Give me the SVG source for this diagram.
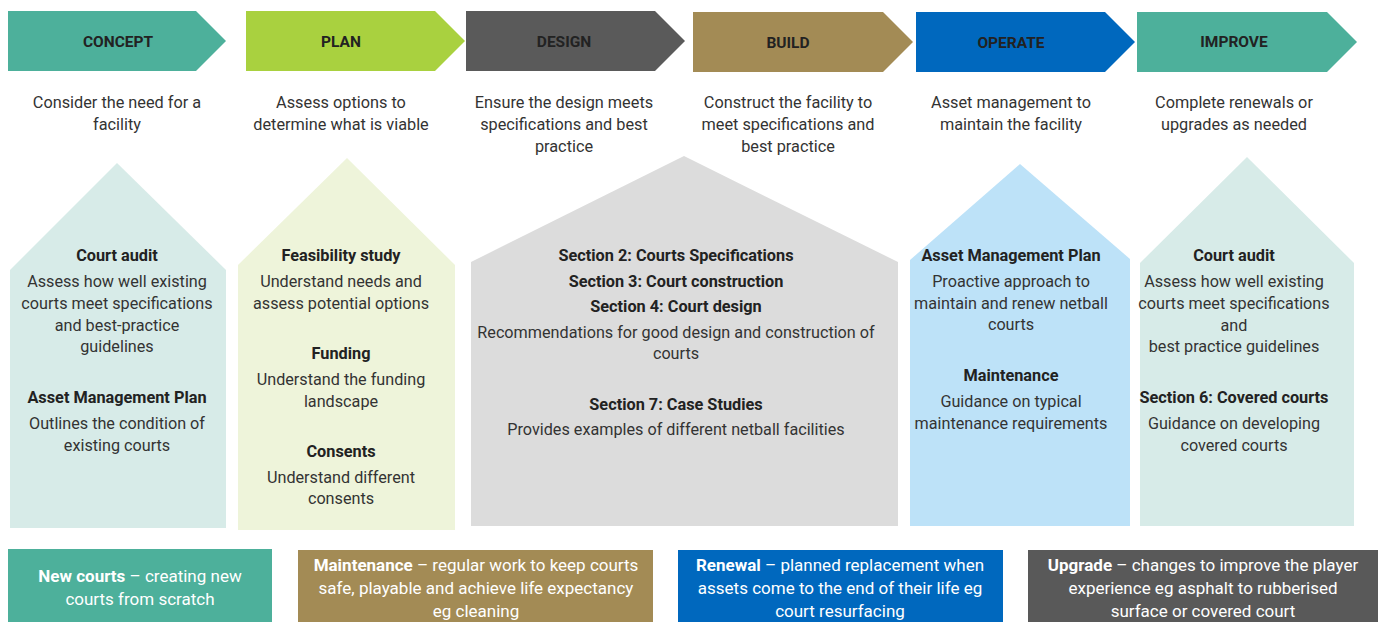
<svg xmlns="http://www.w3.org/2000/svg" width="1383" height="622" viewBox="0 0 1383 622">
<style>
text{font-family:Roboto,"Liberation Sans",sans-serif;text-anchor:middle;fill:#333}
.lab{font-size:15.5px;font-weight:700;fill:#222}
.desc{font-size:16.3px}
.h{font-size:16.2px}
.hb{font-size:16.3px;font-weight:700;fill:#222}
.bt{font-size:17px;fill:#fff}
.bt tspan.b{font-weight:700}
</style>
<rect width="1383" height="622" fill="#fff"/>
<g id="stage-concept">
<polygon points="8,11 196,11 226,41 196,71 8,71" fill="#4DB09B"/>
<text class="lab" x="118" y="47">CONCEPT</text>
<text class="desc" x="117" y="108">Consider the need for a</text>
<text class="desc" x="117" y="130">facility</text>
</g>
<g id="stage-plan">
<polygon points="246,11 435,11 465,41 435,71 246,71" fill="#A9D13F"/>
<text class="lab" x="341" y="47">PLAN</text>
<text class="desc" x="341" y="108">Assess options to</text>
<text class="desc" x="341" y="130">determine what is viable</text>
</g>
<g id="stage-design">
<polygon points="466,11 655,11 685,41 655,71 466,71" fill="#5A5A5A"/>
<text class="lab" x="564" y="47">DESIGN</text>
<text class="desc" x="564" y="108">Ensure the design meets</text>
<text class="desc" x="564" y="130">specifications and best</text>
<text class="desc" x="564" y="152">practice</text>
</g>
<g id="stage-build">
<polygon points="693,12 883,12 913,42 883,72 693,72" fill="#A38B55"/>
<text class="lab" x="788" y="48">BUILD</text>
<text class="desc" x="788" y="108">Construct the facility to</text>
<text class="desc" x="788" y="130">meet specifications and</text>
<text class="desc" x="788" y="152">best practice</text>
</g>
<g id="stage-operate">
<polygon points="916,12 1105,12 1135,42 1105,72 916,72" fill="#0068BE"/>
<text class="lab" x="1011" y="48">OPERATE</text>
<text class="desc" x="1011" y="108">Asset management to</text>
<text class="desc" x="1011" y="130">maintain the facility</text>
</g>
<g id="stage-improve">
<polygon points="1137,12 1327,12 1357,42 1327,72 1137,72" fill="#4DB09B"/>
<text class="lab" x="1234" y="47">IMPROVE</text>
<text class="desc" x="1234" y="108">Complete renewals or</text>
<text class="desc" x="1234" y="130">upgrades as needed</text>
</g>

<g id="house-concept">
<polygon points="10,270 117,163 226,270 226,528 10,528" fill="#D7EBE8"/>
<text class="hb" x="117" y="261">Court audit</text>
<text class="h" x="117" y="287">Assess how well existing</text>
<text class="h" x="117" y="309">courts meet specifications</text>
<text class="h" x="117" y="331">and best-practice</text>
<text class="h" x="117" y="352">guidelines</text>
<text class="hb" x="117" y="403">Asset Management Plan</text>
<text class="h" x="117" y="429">Outlines the condition of</text>
<text class="h" x="117" y="451">existing courts</text>
</g>
<g id="house-plan">
<polygon points="238,265 347,158 455,265 455,530 238,530" fill="#EEF4DA"/>
<text class="hb" x="341" y="261">Feasibility study</text>
<text class="h" x="341" y="287">Understand needs and</text>
<text class="h" x="341" y="309">assess potential options</text>
<text class="hb" x="341" y="359">Funding</text>
<text class="h" x="341" y="385">Understand the funding</text>
<text class="h" x="341" y="407">landscape</text>
<text class="hb" x="341" y="457">Consents</text>
<text class="h" x="341" y="483">Understand different</text>
<text class="h" x="341" y="504">consents</text>
</g>
<g id="house-design">
<polygon points="471,262 684,156 898,262 898,526 471,526" fill="#DCDCDC"/>
<text class="hb" x="676" y="261">Section 2: Courts Specifications</text>
<text class="hb" x="676" y="287">Section 3: Court construction</text>
<text class="hb" x="676" y="312">Section 4: Court design</text>
<text class="h" x="676" y="338">Recommendations for good design and construction of</text>
<text class="h" x="676" y="359">courts</text>
<text class="hb" x="676" y="410">Section 7: Case Studies</text>
<text class="h" x="676" y="435">Provides examples of different netball facilities</text>
</g>
<g id="house-operate">
<polygon points="910,260 1020,164 1130,259 1130,526 910,526" fill="#BDE2F8"/>
<text class="hb" x="1011" y="261">Asset Management Plan</text>
<text class="h" x="1011" y="287">Proactive approach to</text>
<text class="h" x="1011" y="309">maintain and renew netball</text>
<text class="h" x="1011" y="330">courts</text>
<text class="hb" x="1011" y="381">Maintenance</text>
<text class="h" x="1011" y="407">Guidance on typical</text>
<text class="h" x="1011" y="429">maintenance requirements</text>
</g>
<g id="house-improve">
<polygon points="1140,263 1247,157 1354,263 1354,526 1140,526" fill="#D7EBE8"/>
<text class="hb" x="1234" y="261">Court audit</text>
<text class="h" x="1234" y="287">Assess how well existing</text>
<text class="h" x="1234" y="309">courts meet specifications</text>
<text class="h" x="1234" y="331">and</text>
<text class="h" x="1234" y="352">best practice guidelines</text>
<text class="hb" x="1234" y="403">Section 6: Covered courts</text>
<text class="h" x="1234" y="429">Guidance on developing</text>
<text class="h" x="1234" y="451">covered courts</text>
</g>

<g id="box-new">
<rect x="8" y="549" width="264" height="80" fill="#4DB09B"/>
<text class="bt" x="140" y="582"><tspan class="b">New courts</tspan> – creating new</text>
<text class="bt" x="140" y="605">courts from scratch</text>
</g>
<g id="box-maintenance">
<rect x="298" y="550" width="355" height="80" fill="#A38B55"/>
<text class="bt" x="476" y="571"><tspan class="b">Maintenance</tspan> – regular work to keep courts</text>
<text class="bt" x="476" y="594">safe, playable and achieve life expectancy</text>
<text class="bt" x="476" y="617">eg cleaning</text>
</g>
<g id="box-renewal">
<rect x="678" y="550" width="325" height="80" fill="#0068BE"/>
<text class="bt" x="840" y="571"><tspan class="b">Renewal</tspan> – planned replacement when</text>
<text class="bt" x="840" y="594">assets come to the end of their life eg</text>
<text class="bt" x="840" y="617">court resurfacing</text>
</g>
<g id="box-upgrade">
<rect x="1028" y="550" width="350" height="80" fill="#595959"/>
<text class="bt" x="1203" y="571"><tspan class="b">Upgrade</tspan> – changes to improve the player</text>
<text class="bt" x="1203" y="594">experience eg asphalt to rubberised</text>
<text class="bt" x="1203" y="617">surface or covered court</text>
</g>
<g id="connectors"></g>
</svg>
